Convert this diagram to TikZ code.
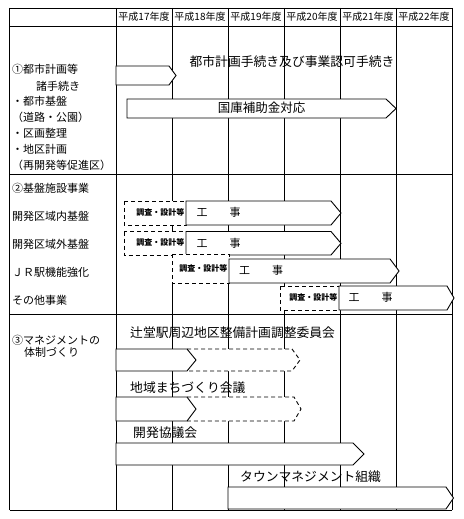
\documentclass[tikz,border=0pt]{standalone}
\usepackage{fontspec}
\newfontfamily\jp{Noto Sans CJK JP}
\usepackage{tikz}

\begin{document}
\begin{tikzpicture}[
      x=1pt, y=-1pt,
      rule/.style={line width=0.9pt},
      solidbar/.style={draw, fill=white, line width=0.9pt, line join=miter},
      dashbar/.style={draw, fill=white, line width=0.9pt, dash pattern=on 4pt off 3pt},
      yearlbl/.style={font=\jp\fontsize{10}{12}\selectfont, inner sep=0pt},
      sidelbl/.style={font=\jp\fontsize{11}{13}\selectfont, anchor=west, inner sep=0pt,
        text height=8.8pt, text depth=1.3pt},
      barlbl/.style={font=\jp\fontsize{12.8}{15}\selectfont, inner sep=0pt,
        text height=10.3pt, text depth=1.5pt},
      worklbl/.style={font=\jp\fontsize{11}{13}\selectfont, inner sep=0pt,
        text height=8.8pt, text depth=1.3pt},
      studylbl/.style={font=\jp\bfseries\fontsize{8}{9}\selectfont, inner sep=0pt,
        anchor=east, text height=6.3pt, text depth=1pt}
    ]
    \useasboundingbox[fill=white] (0,0) rectangle (463,519);

    % table grid
    \foreach \x in {9.5,116,172,228,284,340,396,452}
      \draw[rule] (\x,8) -- (\x,510);
    \foreach \y in {8,26,174,314,510}
      \draw[rule] (9.5,\y) -- (452,\y);

    % fiscal years
    \foreach \n [evaluate=\n as \xc using 144+56*(\n-17)] in {17,...,22}
      \node[yearlbl] (yr\n) at (\xc,17) {平成{\n}年度};

    % left column
    \foreach \t/\x/\y [count=\i] in {①都市計画等/12/70, 諸手続き/36/87, ・都市基盤/12/102,
        （道路・公園）/12/118, ・区画整理/12/134, ・地区計画/12/150, （再開発等促進区）/12/166,
        ②基盤施設事業/12/189, 開発区域内基盤/12/216.7, 開発区域外基盤/12/245,
        ＪＲ駅機能強化/12/273, その他事業/12/301, ③マネジメントの/12/340.7, 体制づくり/24/353}
      \node[sidelbl] (side\i) at (\x,\y) {\t};

    % 1: planning procedures
    \draw[solidbar] (116,66) -- (169,66) -- (176,75.5) -- (169,85) -- (116,85) -- cycle;
    \draw[solidbar] (127,99) -- (386,99) -- (396,108.5) -- (386,118) -- (127,118) -- cycle;
    \node[barlbl] (plan) at (292,62) {都市計画手続き及び事業認可手続き};
    \node[barlbl, font=\jp\fontsize{12.5}{15}\selectfont] (subsidy) at (261.5,108.5) {国庫補助金対応};

    % 2: infrastructure works
    \foreach \xa/\xb/\ya/\yb/\xs/\xt/\ys/\xw [count=\i] in {
        124/186/201/225/331/341/201/218.5,
        124/186/231.5/255/331/341/231.5/218.5,
        172/229/254/283/390/399/259/261,
        280/339/286/310/447/454/286/370.5} {
      \draw[dashbar] (\xa,\ya) rectangle (\xb,\yb);
      \node[studylbl] (study\i) at ({\xb-1.5},{(\ya+\yb)/2}) {調査・設計等};
      \draw[solidbar] (\xb,\ys) -- (\xs,\ys) -- (\xt,{(\ys+\yb)/2}) -- (\xs,\yb) -- (\xb,\yb) -- cycle;
      \node[worklbl] (work\i) at (\xw,{(\ys+\yb)/2}) {工　　事};
    }

    % 3: management
    \foreach \ya/\yb/\xs/\xt in {349/371/292/300, 397/421/294/301} {
      \draw[dashbar] (187,\ya) -- (\xs,\ya) -- (\xt,{(\ya+\yb)/2}) -- (\xs,\yb) -- (187,\yb);
      \draw[solidbar] (116,\ya) -- (187,\ya) -- (196,{(\ya+\yb)/2}) -- (187,\yb) -- (116,\yb) -- cycle;
    }
    \draw[solidbar] (116,443) -- (353,443) -- (364,454) -- (353,465) -- (116,465) -- cycle;
    \draw[solidbar] (228,487) -- (446,487) -- (453.5,498) -- (446,509) -- (228,509) -- cycle;

    \node[barlbl, anchor=west] (cmte)  at (130,332.7) {辻堂駅周辺地区整備計画調整委員会};
    \node[barlbl, anchor=west] (mtg)   at (130,387.7) {地域まちづくり会議};
    \node[barlbl, anchor=west] (dev)   at (133,433)   {開発協議会};
    \node[barlbl, anchor=west] (townm) at (240,476.7) {タウンマネジメント組織};
  \end{tikzpicture}
\end{document}
